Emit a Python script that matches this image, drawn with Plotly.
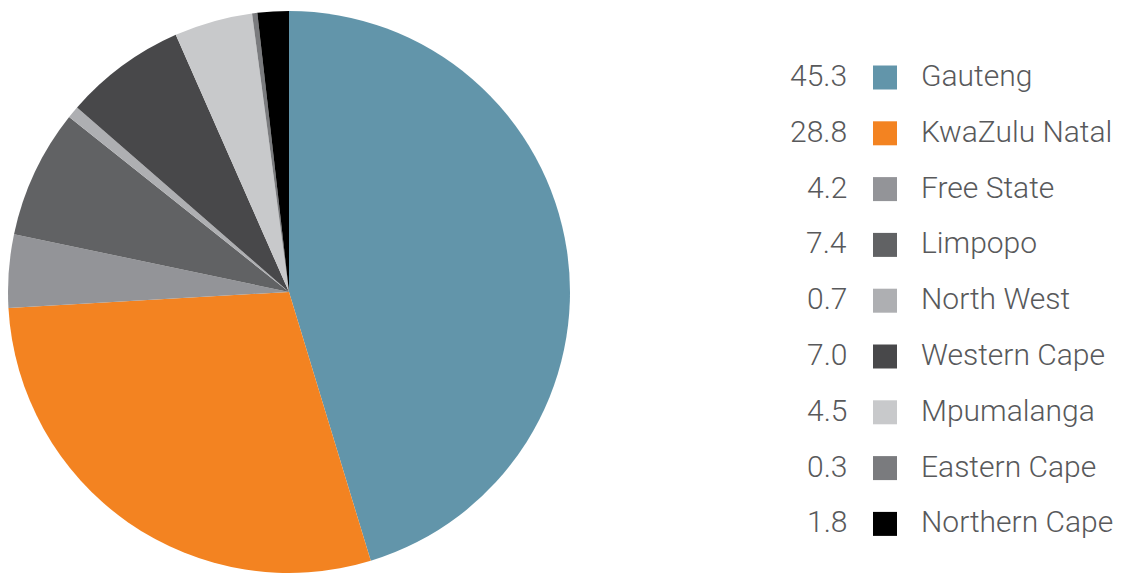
import plotly.graph_objects as go

# Provincial shares (%)
provinces = ["Gauteng", "KwaZulu Natal", "Free State", "Limpopo", "North West",
             "Western Cape", "Mpumalanga", "Eastern Cape", "Northern Cape"]
shares = [45.3, 28.8, 4.2, 7.4, 0.7, 7.0, 4.5, 0.3, 1.8]
colors = ["#6295aa", "#f38321", "#939498", "#616264", "#aeafb2",
          "#48484a", "#c8c9cb", "#7a7b7e", "#000000"]

W, H = 1125, 574
FONT = "Roboto"
TEXT_COLOR = "#58595b"

fig = go.Figure(
    go.Pie(
        labels=provinces,
        values=shares,
        marker=dict(colors=colors, line=dict(width=0)),
        sort=False,
        direction="clockwise",
        rotation=0,
        textinfo="none",
        hoverinfo="label+value",
        showlegend=False,
        domain=dict(x=[8 / W, 570 / W], y=[1 - 573 / H, 1 - 11 / H]),
    )
)

# Custom legend: value, colour swatch, province name
first_y, step = 77.5, 55.8
sq = 24
sq_x0 = 873
shapes, annotations = [], []
for i, (name, val, col) in enumerate(zip(provinces, shares, colors)):
    yc = first_y + i * step
    shapes.append(dict(
        type="rect", xref="paper", yref="paper",
        x0=sq_x0 / W, x1=(sq_x0 + sq) / W,
        y0=1 - (yc + sq / 2) / H, y1=1 - (yc - sq / 2) / H,
        fillcolor=col, line=dict(width=0),
    ))
    annotations.append(dict(
        xref="paper", yref="paper", x=849 / W, y=1 - (yc - 2) / H,
        text=f"{val:.1f}", showarrow=False, xanchor="right", yanchor="middle",
        font=dict(family=FONT, size=30, weight=300, color=TEXT_COLOR),
    ))
    annotations.append(dict(
        xref="paper", yref="paper", x=919 / W, y=1 - (yc - 2) / H,
        text=name, showarrow=False, xanchor="left", yanchor="middle",
        font=dict(family=FONT, size=30, weight=300, color=TEXT_COLOR),
    ))

fig.update_layout(
    width=W, height=H,
    margin=dict(l=0, r=0, t=0, b=0),
    paper_bgcolor="white",
    plot_bgcolor="white",
    shapes=shapes,
    annotations=annotations,
)

fig.write_html("out.html")
